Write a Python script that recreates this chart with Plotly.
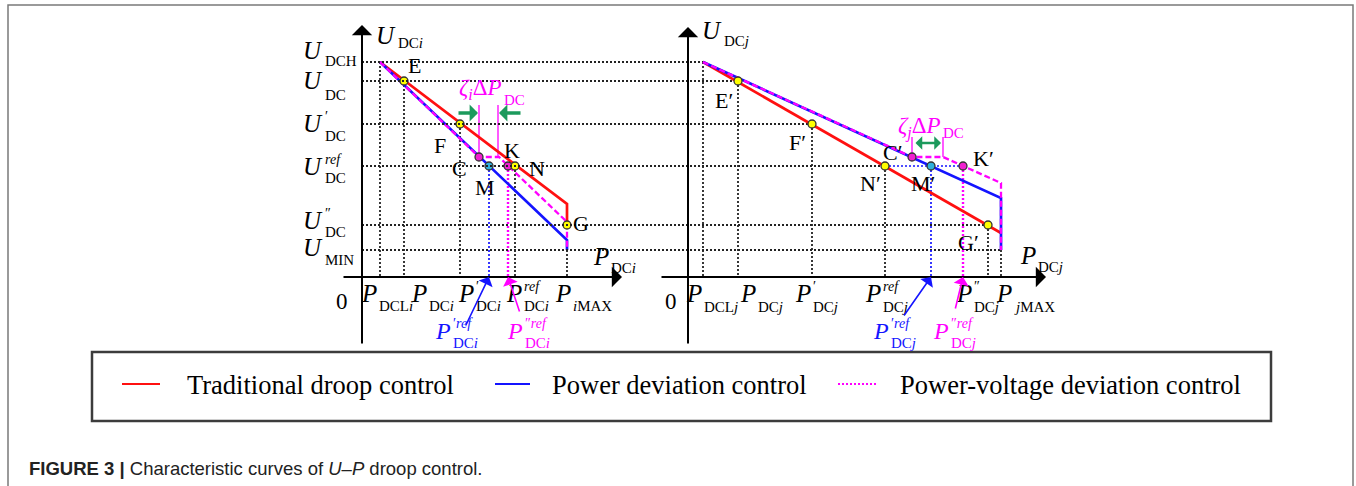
import plotly.graph_objects as go

W, H = 1356, 486
X0L, X0R, Y0 = 362, 688, 277          # pixel position of the two origins (layout)

SERIF = "Liberation Serif"
SANS = "Liberation Sans"
RED, BLUE, MAG = "#ff1010", "#1414ff", "#ff00ff"
GRID = "#222222"
GREEN = "#1c9a5c"
YEL, CYAN, PINK = "#ffff00", "#2fb0dc", "#f020d0"

# ---------------- data (diagram units) ----------------
U_keys = ["DCH", "DC", "DC1", "REF", "DC2", "MIN"]
U_vals = [215, 196, 153, 111, 52, 27]
U = dict(zip(U_keys, U_vals))

PL_keys = ["DCL", "DC", "DC1", "REF1", "REF2", "REF", "MAX"]
PL_vals = [18, 42, 98, 127, 146, 153, 205]
PL = dict(zip(PL_keys, PL_vals))

PR_keys = ["DCL", "DC", "DC1", "REF", "REF1", "REF2", "DC2", "MAX"]
PR_vals = [15, 50, 124, 197, 243, 275, 300, 313]
PR = dict(zip(PR_keys, PR_vals))

# characteristic curves, converter i (left)
red_L_P = [PL["DCL"], PL["MAX"], PL["MAX"]]
red_L_U = [U["DCH"], 73, U["DC2"]]
blue_L_P = [PL["DCL"], PL["MAX"], PL["MAX"]]
blue_L_U = [U["DCH"], 37, U["MIN"]]
mag_L_P = [PL["DCL"], 117, 137, PL["MAX"], PL["MAX"]]
mag_L_U = [U["DCH"], 120, 120, 55, U["MIN"]]

# characteristic curves, converter j (right)
red_R_P = [PR["DCL"], PR["MAX"]]
red_R_U = [U["DCH"], 44]
blue_R_P = [PR["DCL"], PR["MAX"], PR["MAX"]]
blue_R_U = [U["DCH"], 79, U["MIN"]]
mag_R_P = [PR["DCL"], 224, 255, PR["MAX"], PR["MAX"]]
mag_R_U = [U["DCH"], 120, 120, 94, U["MIN"]]

# operating points
pts_L_name = ["E", "F", "C", "M", "K", "N", "G"]
pts_L_P = [42, 98, 117, 127, 146, 153, 205]
pts_L_U = [196, 153, 120, 111, 111, 111, 52]
pts_L_col = [YEL, YEL, PINK, CYAN, PINK, YEL, YEL]
pts_L_off = [(10, -16), (-20, 21), (-20, 11), (-4, 21), (4, -16), (22, 2), (14, -2)]

pts_R_name = ["E′", "F′", "C′", "N′", "M′", "K′", "G′"]
pts_R_P = [50, 124, 224, 197, 243, 275, 300]
pts_R_U = [196, 153, 120, 111, 111, 111, 52]
pts_R_col = [YEL, YEL, PINK, YEL, CYAN, PINK, YEL]
pts_R_off = [(-14, 19), (-15, 18), (-19, -5), (-15, 17), (-8, 17), (20, -8), (-20, 17)]

legend_names = ["Traditional droop control", "Power deviation control",
                "Power-voltage deviation control"]

fig = go.Figure()


def line(xr, P, Uv, color, width=1.5, dash="solid"):
    fig.add_trace(go.Scatter(x=P, y=Uv, mode="lines", xaxis=xr, yaxis="y",
                             line=dict(color=color, width=width, dash=dash),
                             hoverinfo="skip", showlegend=False))


# ---------------- grid lines ----------------
LAX_IN_R = X0L - X0R  # left vertical axis expressed in right-panel units
h_ends = [PR["DCL"], PR["DC"], PR["DC1"], PR["REF"], PR["DC2"], PR["MAX"]]
gx, gy = [], []
for k, e in zip(U_keys, h_ends):
    gx += [LAX_IN_R, e, None]
    gy += [U[k], U[k], None]
line("x2", gx, gy, GRID, 1.8, "2px,2px")
line("x2", [PR["REF"], PR["REF2"]], [U["REF"], U["REF"]], BLUE, 1.6, "2px,2px")

vL = [("DCL", "DCH"), ("DC", "DC"), ("DC1", "DC1"), ("REF", "REF"), ("MAX", "MIN")]
vx, vy = [], []
for p, u in vL:
    vx += [PL[p], PL[p], None]; vy += [U[u], 0, None]
line("x", vx, vy, GRID, 1.8, "2px,2px")
line("x", [PL["REF1"], PL["REF1"]], [U["REF"], 0], BLUE, 1.7, "2px,2px")
line("x", [PL["REF2"], PL["REF2"]], [U["REF"], 0], MAG, 2.4, "2px,2px")

vR = [("DCL", "DCH"), ("DC", "DC"), ("DC1", "DC1"), ("REF", "REF"),
      ("DC2", "DC2"), ("MAX", "MIN")]
vx, vy = [], []
for p, u in vR:
    vx += [PR[p], PR[p], None]; vy += [U[u], 0, None]
line("x2", vx, vy, GRID, 1.8, "2px,2px")
line("x2", [PR["REF1"], PR["REF1"]], [U["REF"], 0], BLUE, 1.7, "2px,2px")
line("x2", [PR["REF2"], PR["REF2"]], [U["REF"], 0], MAG, 2.4, "2px,2px")

# zeta markers (thin magenta verticals)
line("x", [117, 117, None, 136, 136], [172, 120, None, 172, 120], MAG, 1.3)
line("x2", [224, 224, None, 255, 255], [140, 120, None, 140, 120], MAG, 1.3)

# ---------------- curves ----------------
line("x", red_L_P, red_L_U, RED, 2.7)
line("x", blue_L_P, blue_L_U, BLUE, 2.7)
line("x", mag_L_P, mag_L_U, MAG, 2.3, "6px,3px")
line("x2", red_R_P, red_R_U, RED, 2.7)
line("x2", blue_R_P, blue_R_U, BLUE, 2.7)
line("x2", mag_R_P, mag_R_U, MAG, 2.3, "6px,3px")

# ---------------- points ----------------
for xr, Pp, Uu, cc in [("x", pts_L_P, pts_L_U, pts_L_col), ("x2", pts_R_P, pts_R_U, pts_R_col)]:
    fig.add_trace(go.Scatter(x=Pp, y=Uu, mode="markers", xaxis=xr, yaxis="y",
                             marker=dict(size=8, color=cc, line=dict(color="#333", width=1.3)),
                             hoverinfo="skip", showlegend=False))

ann = []


def txt(xr, x, y, s, size, color="black", xa="center", ya="middle", family=SERIF, xs=0, ys=0):
    ann.append(dict(xref=xr, yref="y", x=x, y=y, text=s, showarrow=False,
                    xanchor=xa, yanchor=ya, xshift=xs, yshift=ys, borderpad=0,
                    font=dict(family=family, size=size, color=color)))


for xr, names, Pp, Uu, offs in [("x", pts_L_name, pts_L_P, pts_L_U, pts_L_off),
                                ("x2", pts_R_name, pts_R_P, pts_R_U, pts_R_off)]:
    for n, p, u, (dx, dy) in zip(names, Pp, Uu, offs):
        txt(xr, p, u, n, 22, xs=dx, ys=-dy)


def sym(xr, x, main, ym, sub=None, ys_=None, sup=None, yp=None, color="black",
        size=24, subsize=15, supsize=14):
    txt(xr, x, ym, "<i>%s</i>" % main, size, color, xa="right")
    if sub is not None:
        txt(xr, x, ys_, sub, subsize, color, xa="left")
    if sup is not None:
        txt(xr, x, yp, sup, supsize, color, xa="left")


# voltage level labels (left of left axis)
UL = [("DCH", None, 227, 216, None), ("DC", None, 197, 182, None),
      ("DC", "′", 154, 141, 161), ("DC", "<i>ref</i>", 111, 99, 118),
      ("DC", "″", 57, 45, 64), ("MIN", None, 30, 17, None)]
for sub, sup, ym, ysb, yp in UL:
    sym("x", -38, "U", ym, sub, ysb, sup, yp, size=25, subsize=15)

# power tick labels
PLab_L = [(16, "DCL<i>i</i>", None), (66, "DC<i>i</i>", None), (113, "DC<i>i</i>", "′"),
          (161, "DC<i>i</i>", "<i>ref</i>"), (210, "<i>i</i>MAX", None)]
for x, sub, sup in PLab_L:
    sym("x", x, "P", -16, sub, -29, sup, -9, size=25)
PLab_R = [(15, "DCL<i>j</i>", None), (69, "DC<i>j</i>", None), (124, "DC<i>j</i>", "′"),
          (194, "DC<i>j</i>", "<i>ref</i>"), (285, "DC<i>j</i>", "″"), (325, "<i>j</i>MAX", None)]
for x, sub, sup in PLab_R:
    sym("x2", x, "P", -16, sub, -30, sup, -9, size=25)

txt("x", -20, -24, "0", 23)
txt("x2", -17, -24, "0", 23)

# axis names
sym("x", 35, "U", 242, "DC<i>i</i>", 234, size=25)
sym("x2", 35, "U", 247, "DC<i>j</i>", 236, size=25)
sym("x", 248, "P", 21, "DC<i>i</i>", 9, size=25)
sym("x2", 349, "P", 22, "DC<i>j</i>", 10, size=25)

# pointer labels
sym("x", 90, "P", -54, "DC<i>i</i>", -66, "′<i>ref</i>", -46, color=BLUE)
sym("x", 162, "P", -54, "DC<i>i</i>", -66, "″<i>ref</i>", -46, color=MAG)
sym("x2", 202, "P", -54, "DC<i>j</i>", -66, "′<i>ref</i>", -46, color=BLUE)
sym("x2", 262, "P", -54, "DC<i>j</i>", -66, "″<i>ref</i>", -46, color=MAG)

# zeta labels
txt("x", 141, 188, "<i>ζ</i><sub><i>i</i></sub>Δ<i>P</i>", 23, MAG, xa="right")
txt("x", 141, 177, "DC", 15, MAG, xa="left")
txt("x2", 254, 150, "<i>ζ</i><sub><i>j</i></sub>Δ<i>P</i>", 23, MAG, xa="right")
txt("x2", 254, 144, "DC", 15, MAG, xa="left")


def arrow(xr, x, y, ax, ay, color, width, head=1, size=1.0, side="end"):
    ann.append(dict(xref=xr, yref="y", axref=xr, ayref="y", x=x, y=y, ax=ax, ay=ay,
                    text="", showarrow=True, arrowhead=head, arrowsize=size,
                    arrowwidth=width, arrowcolor=color, arrowside=side,
                    startarrowhead=head, startarrowsize=size))


# coordinate axes
arrow("x", 0, 252, 0, -68, "black", 2, 1, 1.7)
arrow("x", 260, 0, -20, 0, "black", 2, 1, 1.7)
arrow("x2", 0, 250, 0, -68, "black", 2, 1, 1.7)
arrow("x2", 358, 0, -28, 0, "black", 2, 1, 1.7)

# pointers to reference powers
arrow("x", PL["REF1"], 0, 103, -50, BLUE, 1.6, 1, 1.6)
arrow("x", PL["REF2"], 0, 158, -36, MAG, 1.6, 1, 1.6)
arrow("x2", PR["REF1"], 0, 215, -40, BLUE, 1.6, 1, 1.6)
arrow("x2", PR["REF2"], 0, 267, -33, MAG, 1.6, 1, 1.6)

# zeta*dP green arrows
arrow("x", 116, 164, 95, 164, GREEN, 3.5, 1, 0.8)
arrow("x", 137, 164, 160, 164, GREEN, 3.5, 1, 0.8)
arrow("x2", 253, 134, 226, 134, GREEN, 2.5, 1, 0.9, "end+start")

# ---------------- frame, legend, caption (paper) ----------------
def fx(px): return px / W
def fy(py): return 1 - py / H


shapes = [
    dict(type="path", xref="paper", yref="paper", line=dict(color="#7a7a7a", width=1.5),
         path="M %f %f L %f %f L %f %f L %f %f" % (fx(8), fy(486), fx(8), fy(5), fx(1353), fy(5), fx(1353), fy(486))),
    dict(type="rect", xref="paper", yref="paper", x0=fx(92), x1=fx(1271), y0=fy(421), y1=fy(352),
         line=dict(color="#3c3c3c", width=2.5)),
]
leg_x = [(122, 160, 185), (495, 530, 550), (838, 878, 898)]
leg_col = [RED, BLUE, MAG]
leg_dash = ["solid", "solid", "2px,2px"]
for (a, b, t), c, d, n in zip(leg_x, leg_col, leg_dash, legend_names):
    shapes.append(dict(type="line", xref="paper", yref="paper", x0=fx(a), x1=fx(b), y0=fy(384), y1=fy(384),
                       line=dict(color=c, width=2.2, dash=d)))
    ann.append(dict(xref="paper", yref="paper", x=fx(t), y=fy(385), text=n, showarrow=False,
                    xanchor="left", yanchor="middle", font=dict(family=SERIF, size=26.5, color="black")))

ann.append(dict(xref="paper", yref="paper", x=fx(27), y=fy(468),
                text="<b>FIGURE 3 |</b> Characteristic curves of <i>U</i>–<i>P</i> droop control.",
                showarrow=False, xanchor="left", yanchor="middle",
                font=dict(family=SANS, size=18.5, color="#222")))

fig.update_layout(
    width=W, height=H, margin=dict(l=0, r=0, t=0, b=0),
    paper_bgcolor="white", plot_bgcolor="white",
    xaxis=dict(domain=[0, 1], range=[-X0L, W - X0L], visible=False, fixedrange=True),
    xaxis2=dict(domain=[0, 1], range=[-X0R, W - X0R], visible=False, overlaying="x",
                anchor="y", fixedrange=True),
    yaxis=dict(domain=[0, 1], range=[Y0 - H, Y0], visible=False, fixedrange=True),
    shapes=shapes, annotations=ann, showlegend=False,
)
fig.write_html("out.html")
